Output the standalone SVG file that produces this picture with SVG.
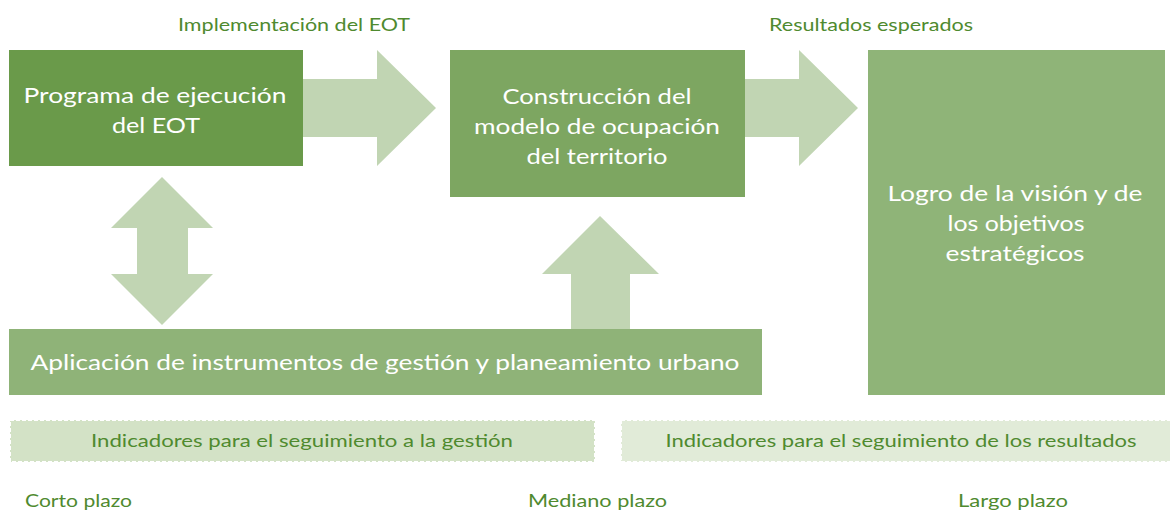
<svg xmlns="http://www.w3.org/2000/svg" width="1170" height="511" viewBox="0 0 1170 511">
<style>
.box text{fill:#ffffff;font-family:Lato,"Liberation Sans",sans-serif;font-size:22px;text-anchor:middle}
.lbl{fill:#4f8a2f;font-family:Lato,"Liberation Sans",sans-serif;font-size:17px}
.arrow{fill:#c1d5b3}
.ind{stroke:#ffffff;stroke-width:2;stroke-dasharray:4 2}
.ind text{stroke:none;fill:#4f8a2f;font-family:Lato,"Liberation Sans",sans-serif;font-size:17px;text-anchor:middle}
</style>
<rect width="1170" height="511" fill="#ffffff"/>
<text class="lbl" x="178" y="31" textLength="232" lengthAdjust="spacingAndGlyphs">Implementación del EOT</text>
<text class="lbl" x="769" y="31" textLength="204" lengthAdjust="spacingAndGlyphs">Resultados esperados</text>
<g id="connectors">
<polygon class="arrow" points="303,79 377,79 377,50 436,108 377,166 377,137 303,137"/>
<polygon class="arrow" points="745,79 799,79 799,50 858,108 799,166 799,137 745,137"/>
<polygon class="arrow" points="162,177 213,228 188,228 188,274 213,274 162,325 111,274 137,274 137,228 111,228"/>
<polygon class="arrow" points="600,216 659,274 630,274 630,329 571,329 571,274 542,274"/>
</g>
<g id="n1" class="box">
<rect x="9" y="50" width="294" height="116" fill="#6a9a4a"/>
<text x="155" y="103" textLength="263" lengthAdjust="spacingAndGlyphs">Programa de ejecución</text>
<text x="156" y="133" textLength="88" lengthAdjust="spacingAndGlyphs">del EOT</text>
</g>
<g id="n2" class="box">
<rect x="450" y="50" width="295" height="147" fill="#7da661"/>
<text x="597" y="104" textLength="189" lengthAdjust="spacingAndGlyphs">Construcción del</text>
<text x="597" y="134" textLength="246" lengthAdjust="spacingAndGlyphs">modelo de ocupación</text>
<text x="597" y="164" textLength="141" lengthAdjust="spacingAndGlyphs">del territorio</text>
</g>
<g id="n3" class="box">
<rect x="868" y="50" width="297" height="345" fill="#8fb478"/>
<text x="1015" y="201" textLength="255" lengthAdjust="spacingAndGlyphs">Logro de la visión y de</text>
<text x="1016" y="231" textLength="137" lengthAdjust="spacingAndGlyphs">los objetivos</text>
<text x="1015" y="261" textLength="139" lengthAdjust="spacingAndGlyphs">estratégicos</text>
</g>
<g id="n4" class="box">
<rect x="9" y="329" width="753" height="66" fill="#8fb378"/>
<text x="385" y="370" textLength="709" lengthAdjust="spacingAndGlyphs">Aplicación de instrumentos de gestión y planeamiento urbano</text>
</g>
<g id="n5" class="ind">
<rect x="10" y="420" width="585" height="42" fill="#d3e2c6"/>
<text x="302" y="447" textLength="422" lengthAdjust="spacingAndGlyphs">Indicadores para el seguimiento a la gestión</text>
</g>
<g id="n6" class="ind">
<rect x="621" y="420" width="560" height="42" fill="#e1ebd8"/>
<text x="901" y="447" textLength="471" lengthAdjust="spacingAndGlyphs">Indicadores para el seguimiento de los resultados</text>
</g>
<text class="lbl" x="25" y="507" textLength="107" lengthAdjust="spacingAndGlyphs">Corto plazo</text>
<text class="lbl" x="528" y="507" textLength="139" lengthAdjust="spacingAndGlyphs">Mediano plazo</text>
<text class="lbl" x="958" y="507" textLength="110" lengthAdjust="spacingAndGlyphs">Largo plazo</text>
</svg>
